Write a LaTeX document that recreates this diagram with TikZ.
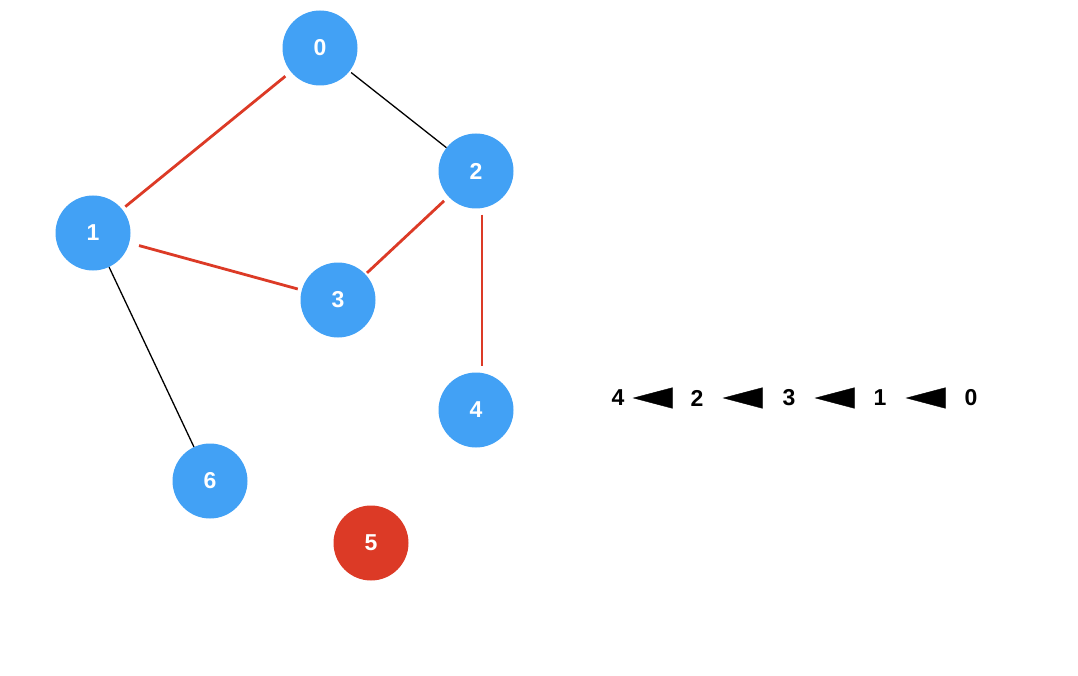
\documentclass[tikz,border=0pt]{standalone}
\usepackage{fontspec}
\setmainfont{Liberation Sans}
\usepackage{tikz}
\definecolor{nodeblue}{RGB}{66,161,245}
\definecolor{visitred}{RGB}{220,58,38}
\usetikzlibrary{arrows.meta,positioning}

\begin{document}
\begin{tikzpicture}[
    x=1pt, y=-1pt,
    vertex/.style={circle, minimum size=75pt, inner sep=0pt, fill=nodeblue, text=white, font=\bfseries\fontsize{23}{23}\selectfont},
    path/.style={draw=visitred, line width=2.8pt},
    edge/.style={draw=black, line width=1.3pt},
    item/.style={inner sep=0pt, font=\bfseries\fontsize{23}{23}\selectfont},
    arrow/.style={draw=white, -{Triangle[length=40pt,width=21pt,black]}}
]
\useasboundingbox (0,0) rectangle (1078,676);

\node[vertex] (n0) at (320,48) {0};
\node[vertex] (n1) at (93,233) {1};
\node[vertex] (n2) at (476,171) {2};
\node[vertex] (n3) at (338,300) {3};
\node[vertex] (n4) at (476,410) {4};
\node[vertex] (n6) at (210,481) {6};
\node[vertex, fill=visitred] (n5) at (371,543) {5};

\draw[edge, shorten <=2pt] (n0) -- (n2);
\draw[edge] (n1) -- (n6);
\draw[path, shorten <=4pt, shorten >=7pt] (n1) -- (n0);
\draw[path, shorten <=10pt, shorten >=4pt] (n1) -- (n3);
\draw[path, shorten <=2pt, shorten >=6pt] (n3) -- (n2);
\draw[path, shorten <=6pt, shorten >=6pt, transform canvas={xshift=6pt}] (n2) -- (n4);

% visit order
\node[item] (q4) at (618,398) {4};
\node[item] (q2) at (697,398) {2};
\node[item] (q3) at (789,398) {3};
\node[item] (q1) at (880,398) {1};
\node[item] (q0) at (971,398) {0};

\draw[arrow, shorten <=17pt, shorten >=8pt] (q2) -- (q4);
\draw[arrow, shorten <=18pt, shorten >=19pt] (q3) -- (q2);
\draw[arrow, shorten <=18pt, shorten >=19pt] (q1) -- (q3);
\draw[arrow, shorten <=18pt, shorten >=19pt] (q0) -- (q1);

\end{tikzpicture}
\end{document}
